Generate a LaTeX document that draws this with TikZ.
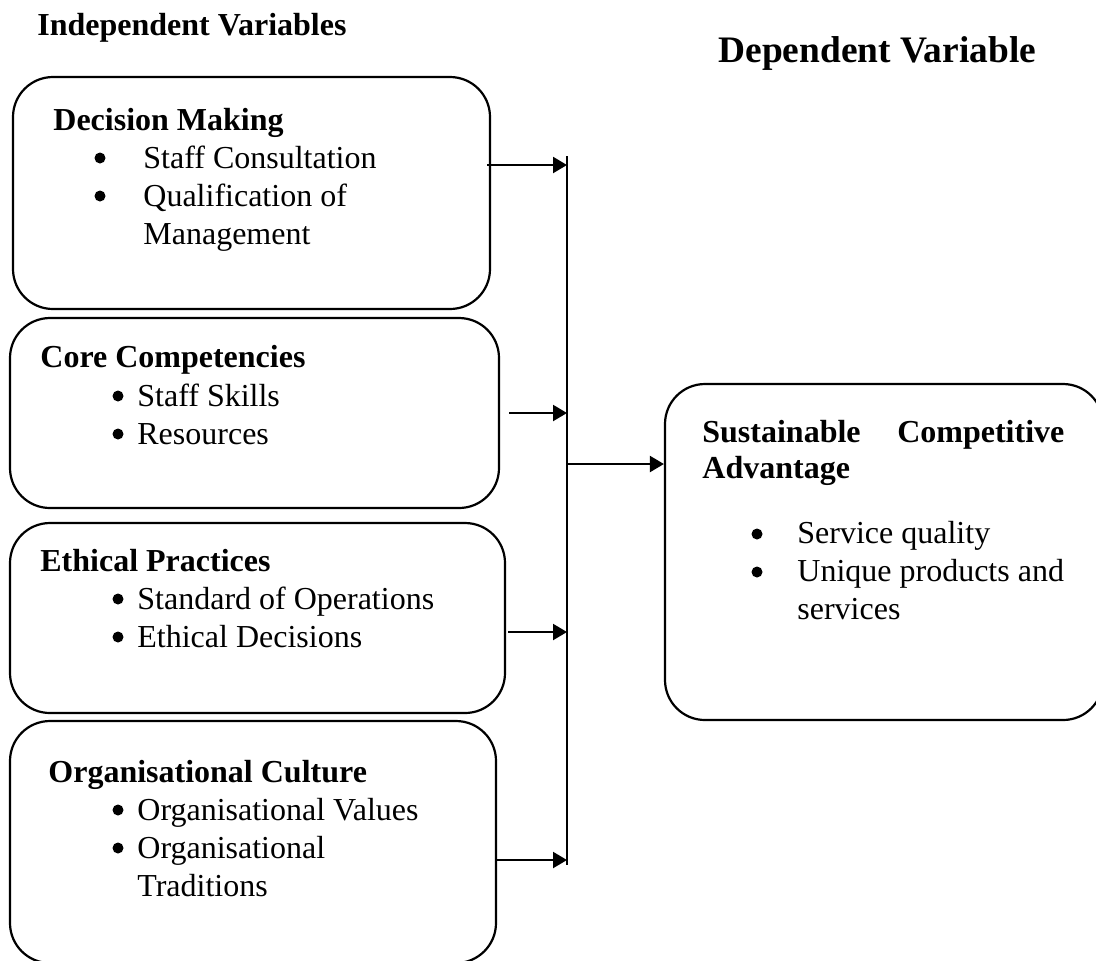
\documentclass[tikz,border=0pt]{standalone}
\usepackage{fontspec}
\setmainfont{Liberation Serif}
\usetikzlibrary{arrows.meta,positioning,calc}
\newcommand{\figsize}{\fontsize{16}{19}\selectfont}

\tikzset{
  varbox/.style={draw,line width=1.1pt,rounded corners=20pt,inner sep=0pt},
  head/.style={font=\figsize\bfseries,anchor=base west,inner sep=0pt},
  txt/.style={font=\figsize,anchor=base west,inner sep=0pt},
  dot/.style={circle,fill,inner sep=0pt,minimum size=5.5pt},
  link/.style={line width=1.1pt,-{Triangle[length=7pt,width=8pt]}},
}

\begin{document}
\begin{tikzpicture}[x=0.5pt,y=-0.5pt]
  \useasboundingbox (0,0) rectangle (1096,960);

  % column titles
  \node[head] (indep) at (37,35) {Independent Variables};
  \node[head,font=\fontsize{18.7}{22}\selectfont\bfseries] (dep) at (718,62) {Dependent Variable};

  % independent variable boxes
  \node[varbox,minimum width=238.5pt,minimum height=116pt] (dm) at (251.5,193) {};
  \node[varbox,minimum width=244.5pt,minimum height=95pt] (cc) at (254.5,413) {};
  \node[varbox,minimum width=247.5pt,minimum height=95pt] (ep) at (257.5,618) {};
  \node[varbox,minimum width=243pt,minimum height=121pt] (oc) at (253,842) {};

  \node[head] (dmhead) at (53,130) {Decision Making};
  \node[dot] (dmb1) at (100,158) {};
  \node[txt] (dmt1) at (143,168) {Staff Consultation};
  \node[dot] (dmb2) at (100,196) {};
  \node[txt] (dmt2) at (143,206) {Qualification of};
  \node[txt] (dmt3) at (143,244) {Management};

  \node[head] (cchead) at (40,367) {Core Competencies};
  \node[dot] (ccb1) at (118,396) {};
  \node[txt] (cct1) at (137,406) {Staff Skills};
  \node[dot] (ccb2) at (118,434) {};
  \node[txt] (cct2) at (137,444) {Resources};

  \node[head] (ephead) at (40,571) {Ethical Practices};
  \node[dot] (epb1) at (118,599) {};
  \node[txt] (ept1) at (137,609) {Standard of Operations};
  \node[dot] (epb2) at (118,637) {};
  \node[txt] (ept2) at (137,647) {Ethical Decisions};

  \node[head] (ochead) at (48,782) {Organisational Culture};
  \node[dot] (ocb1) at (118,810) {};
  \node[txt] (oct1) at (137,820) {Organisational Values};
  \node[dot] (ocb2) at (118,848) {};
  \node[txt] (oct2) at (137,858) {Organisational};
  \node[txt] (oct3) at (137,896) {Traditions};

  % dependent variable box
  \node[varbox,minimum width=219pt,minimum height=168pt] (sca) at (884,552) {};
  \node[head] (scahead) at (702,442) {\hbox to 181pt{Sustainable\hfill Competitive}};
  \node[head] (scahead2) at (702,478) {Advantage};
  \node[dot] (scab1) at (757,534) {};
  \node[txt] (scat1) at (797,543) {Service quality};
  \node[dot] (scab2) at (757,572) {};
  \node[txt] (scat2) at (797,581) {Unique products and};
  \node[txt] (scat3) at (797,619) {services};

  % collecting line and arrows
  \coordinate (bustop) at (567,156);
  \coordinate (busbot) at (567,865);
  \coordinate (in1) at (567,165);
  \coordinate (in2) at (567,413);
  \coordinate (in3) at (567,632);
  \coordinate (in4) at (567,860);
  \coordinate (hub) at (567,464);
  \draw[line width=1.1pt] (bustop) -- (busbot);
  \draw[link] ([xshift=-2pt]in1 -| dm.east) -- (in1);
  \draw[link] ([xshift=4.5pt]in2 -| cc.east) -- (in2);
  \draw[link] ([xshift=1pt]in3 -| ep.east) -- (in3);
  \draw[link] (in4 -| oc.east) -- (in4);
  \draw[link] (hub) -- (hub -| sca.west);
\end{tikzpicture}
\end{document}
